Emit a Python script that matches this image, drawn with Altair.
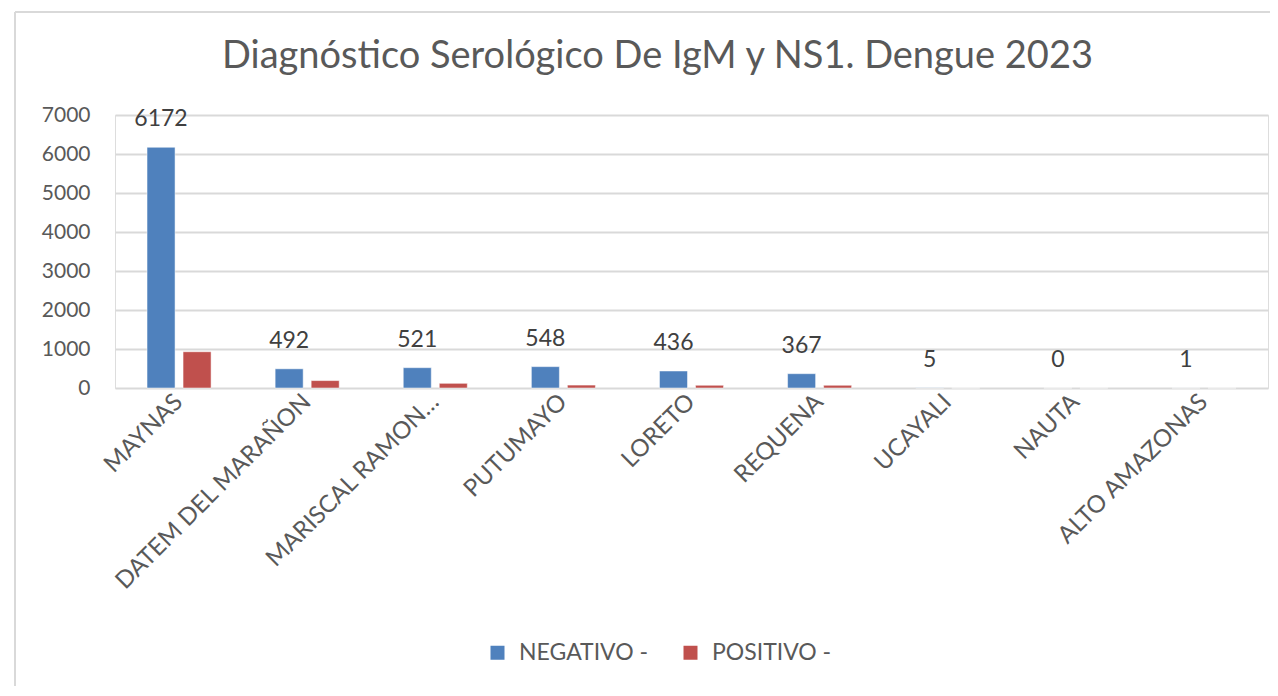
import altair as alt
import pandas as pd

provincias = ["MAYNAS", "DATEM DEL MARAÑON", "MARISCAL RAMON CASTILLA", "PUTUMAYO",
              "LORETO", "REQUENA", "UCAYALI", "NAUTA", "ALTO AMAZONAS"]
negativo = [6172, 492, 521, 548, 436, 367, 5, 0, 1]
positivo = [930, 190, 120, 75, 70, 70, 0, 0, 0]
series = ["NEGATIVO -", "POSITIVO -"]
colores = ["#4f81bd", "#c0504d"]
titulo = "Diagnóstico Serológico De IgM y NS1. Dengue 2023"

rows = []
for p, n, q in zip(provincias, negativo, positivo):
    rows.append({"provincia": p, "serie": series[0], "valor": n})
    rows.append({"provincia": p, "serie": series[1], "valor": q})
df = pd.DataFrame(rows)

FONT = "Lato"
GRAY = "#595959"

x_enc = alt.X(
    "provincia:N", sort=provincias,
    scale=alt.Scale(paddingInner=0.5, paddingOuter=0.25),
    axis=alt.Axis(title=None, labelAngle=-45, labelAlign="right", labelBaseline="middle",
                  labelPadding=10, labelFontSize=24, labelColor=GRAY, labelFont=FONT,
                  ticks=False, domain=False, grid=False, labelLimit=500,
                  labelExpr="datum.label == 'MARISCAL RAMON CASTILLA' ? 'MARISCAL RAMON…' : datum.label"),
)
xo_enc = alt.XOffset("serie:N", sort=series,
                     scale=alt.Scale(paddingInner=0.222, paddingOuter=0))
y_enc = alt.Y(
    "valor:Q",
    scale=alt.Scale(domain=[0, 7000], nice=False),
    axis=alt.Axis(title=None, values=list(range(0, 7001, 1000)), format="d", ticks=False,
                  domain=False, labelPadding=25, labelFontSize=21, labelColor=GRAY,
                  labelFont=FONT, gridColor="#d9d9d9", gridWidth=2),
)

bars = alt.Chart(df).mark_bar(stroke="white", strokeWidth=0.5).encode(
    x=x_enc, xOffset=xo_enc, y=y_enc,
    color=alt.Color("serie:N", sort=series,
                    scale=alt.Scale(domain=series, range=colores),
                    legend=alt.Legend(title=None, orient="none", direction="horizontal",
                                      legendX=371, legendY=526, symbolType="square",
                                      symbolSize=196, symbolStrokeWidth=0,
                                      labelFontSize=23, labelColor=GRAY, labelFont=FONT,
                                      labelOffset=10, columnPadding=30)),
)

labels = alt.Chart(df).transform_filter(
    alt.datum.serie == series[0]
).mark_text(dy=-28, fontSize=23, color="#404040", font=FONT, baseline="middle").encode(
    x=x_enc, xOffset=xo_enc, y=y_enc, text="valor:Q",
)

frame = pd.DataFrame({"k": [0]})
left_line = alt.Chart(frame).mark_rule(color="#d9d9d9", strokeWidth=2).encode(
    x=alt.value(-100), y=alt.value(-103), y2=alt.value(580))
top_line = alt.Chart(frame).mark_rule(color="#d9d9d9", strokeWidth=2).encode(
    x=alt.value(-100), x2=alt.value(1160), y=alt.value(-103), y2=alt.value(-103))

chart = alt.layer(bars, labels, left_line, top_line).properties(
    width=1153, height=273,
    autosize=alt.AutoSizeParams(type="none"),
    padding={"left": 107, "top": 107, "right": 2, "bottom": 298},
    title=alt.TitleParams(titulo, fontSize=38, font=FONT, color=GRAY, fontWeight="normal",
                          anchor="middle", frame="group", dx=-34, offset=0, dy=95,
                          baseline="alphabetic"),
).configure_view(stroke=None).configure(background="white")

chart.save("out.html", embed_options={"renderer": "svg", "actions": False})
